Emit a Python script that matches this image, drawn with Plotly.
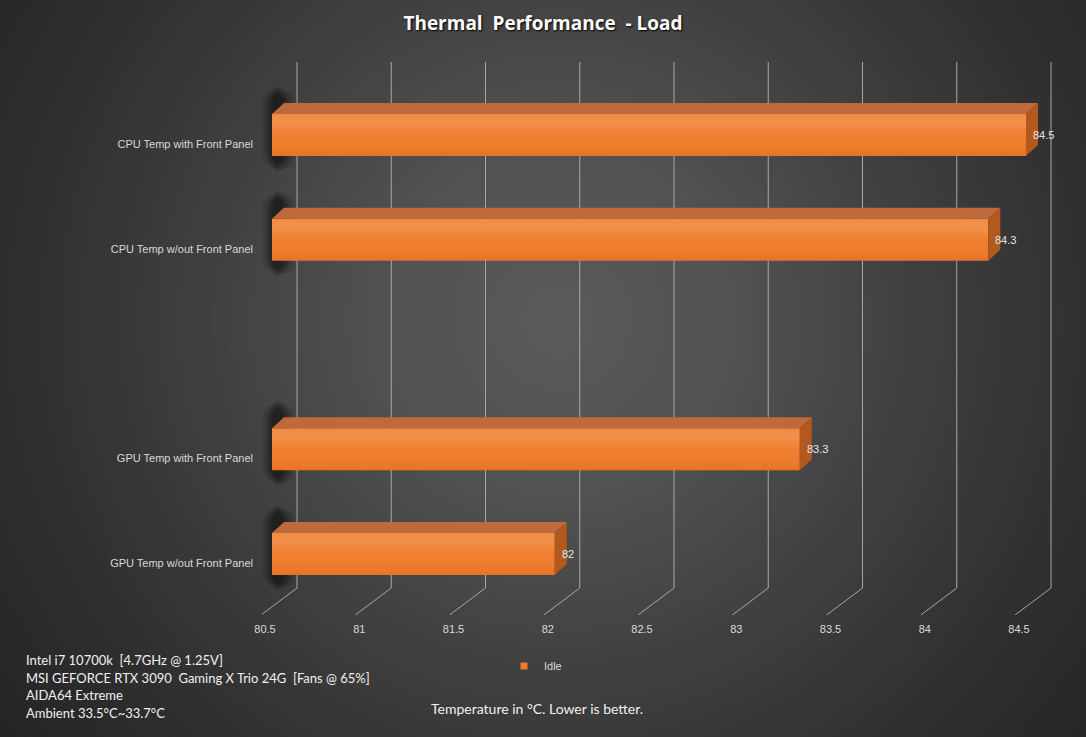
import base64
import plotly.graph_objects as go

# ---------------- data ----------------
categories = [
    "CPU Temp with Front Panel",
    "CPU Temp w/out Front Panel",
    "GPU Temp with Front Panel",
    "GPU Temp w/out Front Panel",
]
values = [84.5, 84.3, 83.3, 82.0]
series_name = "Idle"
x_ticks = [80.5, 81, 81.5, 82, 82.5, 83, 83.5, 84, 84.5]
x_base = 80.5
title_text = "Thermal\u00a0\u00a0Performance\u00a0\u00a0-\u00a0Load"
notes = [
    "Intel i7 10700k\u00a0\u00a0[4.7GHz @ 1.25V]",
    "MSI GEFORCE RTX 3090\u00a0\u00a0Gaming X Trio 24G\u00a0\u00a0[Fans @ 65%]",
    "AIDA64 Extreme",
    "Ambient 33.5°C~33.7°C",
]
footer = "Temperature in °C. Lower is better."

# ---------------- layout geometry ----------------
W, H = 1086, 737
L, R, T, B = 262, 6, 62, 122
PW, PH = W - L - R, H - T - B
FRONT0 = 272          # pixel of x_base on the bar front plane
ROW0 = 135            # pixel of first slot centre
PX, PY = 188.5, 104.75
ux, uy = 1 / PX, 1 / PY
slots = [0, 1, 3, 4]  # one empty slot between CPU and GPU groups

xr = [x_base - (FRONT0 - L) * ux, x_base + (W - R - FRONT0) * ux]
yr = [(H - B - ROW0) * uy, (T - ROW0) * uy]   # reversed: top slot first
hw = 21 * uy          # half bar thickness
DX, DY = 12 * ux, 11 * uy
ORANGE = "#EF7A28"


def pxx(p):
    return (p - L) / PW


def pxy(p):
    return (H - B - p) / PH


fig = go.Figure()

# ---- back layer (main x/y): back-wall gridlines with floor diagonals ----
gx, gy = [], []
grid_bottom = (588 - ROW0) * uy
for t in x_ticks:
    gx += [t + 25 * ux, t + 25 * ux, t - 11 * ux, None]
    gy += [yr[1], grid_bottom, yr[0], None]
fig.add_trace(go.Scatter(x=gx, y=gy, mode="lines", line=dict(color="#A8A8A8", width=1),
                         hoverinfo="skip", showlegend=False, cliponaxis=False))

# soft (layered) shadow blob behind the left end of each bar
for s in slots:
    for g in (6, 3, 0):
        xl, xm, xrr = x_base - (7 + g) * ux, x_base + 5 * ux, x_base + (20 + g) * ux
        yt = s - hw - DY - (10 + g) * uy
        yb = s + hw + (9 + g) * uy
        fig.add_trace(go.Scatter(
            x=[xm, xrr, xrr, xm, xl, xl, xm],
            y=[yt, yt + 9 * uy, yb - 7 * uy, yb, yb - 13 * uy, yt + 13 * uy, yt],
            fill="toself", mode="lines", line=dict(width=0),
            fillgradient=dict(type="horizontal", colorscale=[
                [0, "rgba(0,0,0,0)"], [0.35, "rgba(0,0,0,0.22)"], [0.6, "rgba(0,0,0,0.22)"],
                [1, "rgba(0,0,0,0)"]]),
            hoverinfo="skip", showlegend=False))

# ---- front layer (x3 overlay): 3-D bars ----
fig.add_trace(go.Bar(
    y=slots, x=[v - x_base for v in values], base=x_base, orientation="h",
    width=2 * hw, marker=dict(color=ORANGE, line=dict(width=0)), xaxis="x3",
    name=series_name, showlegend=False, hoverinfo="skip"))

for s, v in zip(slots, values):
    # gradient sheen on the front face
    fig.add_trace(go.Scatter(
        x=[x_base, v, v, x_base, x_base],
        y=[s - hw, s - hw, s + hw, s + hw, s - hw], xaxis="x3",
        fill="toself", mode="lines", line=dict(width=0),
        fillgradient=dict(type="vertical", colorscale=[
            [0, "rgba(150,55,0,0.10)"], [0.5, "rgba(255,255,255,0.03)"],
            [0.8, "rgba(255,255,255,0.17)"], [1, "rgba(255,255,255,0.12)"]]),
        hoverinfo="skip", showlegend=False))
    # top face
    fig.add_trace(go.Scatter(
        x=[x_base, x_base + DX, v + DX, v, x_base],
        y=[s - hw, s - hw - DY, s - hw - DY, s - hw, s - hw], xaxis="x3",
        fill="toself", fillcolor="#BF6A3D", mode="lines", line=dict(width=0),
        hoverinfo="skip", showlegend=False))
    # right side face
    fig.add_trace(go.Scatter(
        x=[v, v + DX, v + DX, v, v],
        y=[s - hw, s - hw - DY, s + hw - DY, s + hw, s - hw], xaxis="x3",
        fill="toself", fillcolor="#B3591E", mode="lines", line=dict(width=0),
        hoverinfo="skip", showlegend=False))

# legend entry (small square) on the tick-label axis
fig.add_trace(go.Scatter(x=[None], y=[None], mode="markers", xaxis="x2",
                         marker=dict(symbol="square", size=7, color=ORANGE),
                         name=series_name, showlegend=True))

annotations = []
for s, v in zip(slots, values):
    annotations.append(dict(x=v, y=s, xref="x", yref="y", text=f"{v:g}", showarrow=False,
                            xanchor="left", yanchor="middle", xshift=5,
                            font=dict(size=11, color="#E4E4E4", family="Liberation Sans")))
for k, line in enumerate(notes):
    annotations.append(dict(x=pxx(24), y=pxy(660 + k * 17.7), xref="paper", yref="paper",
                            text=line, showarrow=False, align="left",
                            xanchor="left", yanchor="middle",
                            font=dict(size=13, color="#F0F0F0", family="Lato")))
annotations.append(dict(x=pxx(537), y=pxy(708), xref="paper", yref="paper",
                        text=footer, showarrow=False, xanchor="center", yanchor="middle",
                        font=dict(size=14, color="#F0F0F0", family="Lato")))

svg = (
    f"<svg xmlns='http://www.w3.org/2000/svg' width='{W}' height='{H}'>"
    "<defs><radialGradient id='g' gradientUnits='userSpaceOnUse' cx='560' cy='320' r='720'>"
    "<stop offset='0' stop-color='#5a5a5a'/>"
    "<stop offset='0.25' stop-color='#515151'/>"
    "<stop offset='0.5' stop-color='#3f3f3f'/>"
    "<stop offset='0.75' stop-color='#2f2f2f'/>"
    "<stop offset='1' stop-color='#232323'/>"
    "</radialGradient></defs>"
    f"<rect x='0' y='0' width='{W}' height='{H}' fill='url(#g)'/></svg>"
)
bg_uri = "data:image/svg+xml;base64," + base64.b64encode(svg.encode()).decode()

fig.update_layout(
    width=W, height=H,
    margin=dict(l=L, r=R, t=T, b=B, pad=0),
    paper_bgcolor="#2b2b2b", plot_bgcolor="rgba(0,0,0,0)",
    title=dict(text=title_text, x=0.5, xref="container", xanchor="center",
               y=1 - 23 / H, yref="container", yanchor="middle",
               font=dict(size=19, color="#FFFFFF", family="Open Sans", weight=700,
                         shadow="1px 1px 2px #000000")),
    xaxis=dict(range=xr, showgrid=False, zeroline=False, showline=False,
               showticklabels=False, fixedrange=True),
    xaxis2=dict(range=[xr[0] + 7 * ux, xr[1] + 7 * ux], overlaying="x", anchor="y",
                side="bottom", tickvals=x_ticks, ticktext=[f"{t:g}" for t in x_ticks],
                showgrid=False, zeroline=False, showline=False, ticks="",
                tickfont=dict(size=11, color="#D9D9D9", family="Liberation Sans"),
                ticklabelstandoff=6, fixedrange=True),
    xaxis3=dict(range=xr, overlaying="x", anchor="y", visible=False, fixedrange=True),
    yaxis=dict(range=yr, tickvals=[s + 9 * uy for s in slots], ticktext=categories,
               showgrid=False, zeroline=False, showline=False, ticks="",
               tickfont=dict(size=11, color="#D9D9D9", family="Liberation Sans"),
               ticklabelstandoff=8, fixedrange=True),
    legend=dict(orientation="h", x=pxx(504), y=pxy(666), xanchor="left", yanchor="middle",
                bgcolor="rgba(0,0,0,0)", font=dict(size=11, color="#D9D9D9",
                                                   family="Liberation Sans")),
    annotations=annotations,
    images=[dict(source=bg_uri, xref="paper", yref="paper", x=-L / PW, y=1 + T / PH,
                 sizex=W / PW, sizey=H / PH, xanchor="left", yanchor="top",
                 sizing="stretch", layer="below")],
    showlegend=True,
)

fig.write_html("out.html",
               config={"displayModeBar": False},
               post_script="document.body.style.margin='0';"
                           "document.body.style.background='#2b2b2b';")
